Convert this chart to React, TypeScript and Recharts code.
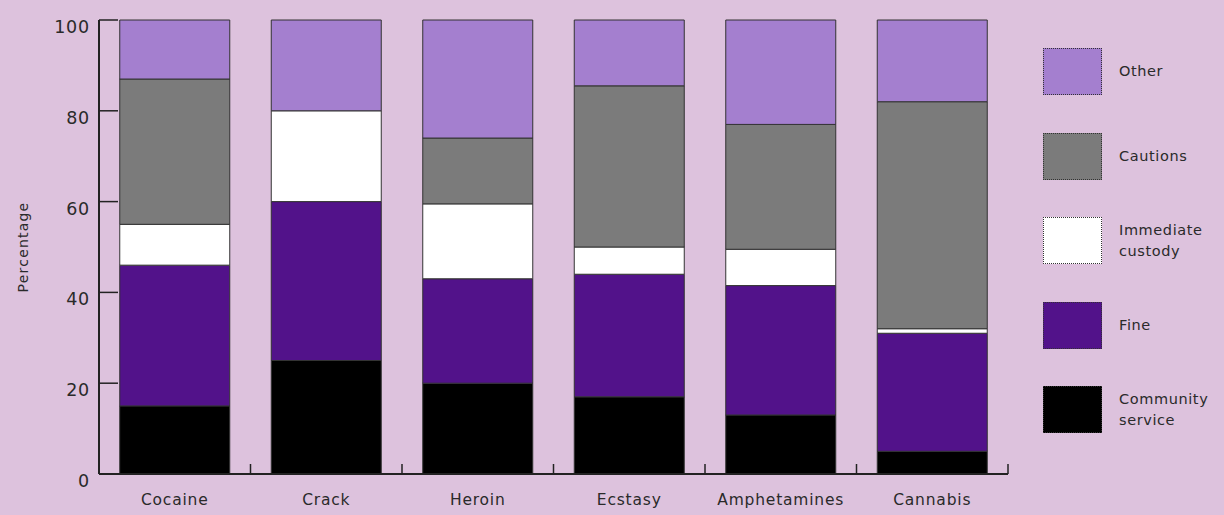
import React from 'react';
import { BarChart, Bar, XAxis, YAxis, Legend } from 'recharts';

const categories = ['Cocaine', 'Crack', 'Heroin', 'Ecstasy', 'Amphetamines', 'Cannabis'];
const communityService = [15, 25, 20, 17, 13, 5];
const fine = [31, 35, 23, 27, 28.5, 26];
const immediateCustody = [9, 20, 16.5, 6, 8, 1];
const cautions = [32, 0, 14.5, 35.5, 27.5, 50];
const other = [13, 20, 26, 14.5, 23, 18];
const yTicks = [0, 20, 40, 60, 80, 100];

const seriesKeys = ['cs', 'fine', 'ic', 'cautions', 'other'];
const seriesNames = ['Community\nservice', 'Fine', 'Immediate\ncustody', 'Cautions', 'Other'];
const seriesColors = ['#000000', '#52128a', '#ffffff', '#7b7b7b', '#a47fcf'];

const data = categories.map((name, i) => ({
  name,
  cs: communityService[i],
  fine: fine[i],
  ic: immediateCustody[i],
  cautions: cautions[i],
  other: other[i],
}));

const FONT = '"DejaVu Sans", sans-serif';
const TEXT = '#2a2a2a';
const BG = '#ddc2dd';
const Y_TICK_MARGIN = 9;
const X_TICK_MARGIN = 20;

const LegendContent = () => {
  const order = [4, 3, 2, 1, 0];
  return (
    <div style={{ width: 170, fontFamily: FONT, fontSize: 14.5, color: TEXT, letterSpacing: 0.6 }}>
      {order.map((idx, k) => (
        <div
          key={seriesKeys[idx]}
          style={{ display: 'flex', alignItems: 'center', height: 47, marginBottom: k < 4 ? 37.5 : 0 }}
        >
          <div
            style={{
              width: 57,
              height: 45,
              background: seriesColors[idx],
              border: '1px dotted #333',
              flex: 'none',
            }}
          />
          <div style={{ marginLeft: 17, whiteSpace: 'pre-line', lineHeight: '21px' }}>{seriesNames[idx]}</div>
        </div>
      ))}
    </div>
  );
};

const YLabel = (props: any) => {
  const vb = props.viewBox || {};
  const cx = (vb.x || 0) + 23;
  const cy = (vb.y || 0) + (vb.height || 0) / 2;
  return (
    <text
      x={cx}
      y={cy}
      transform={`rotate(-90 ${cx} ${cy})`}
      textAnchor="middle"
      dominantBaseline="central"
      fontFamily={FONT}
      fontSize={14}
      letterSpacing={1.2}
      fill={TEXT}
    >
      Percentage
    </text>
  );
};

const YTick = (props: any) => {
  const { x, y, payload } = props;
  const ax = x + Y_TICK_MARGIN;
  return (
    <g>
      <text
        x={x}
        y={y}
        dy={7}
        textAnchor="end"
        dominantBaseline="central"
        fontFamily={FONT}
        fontSize={17.5}
        letterSpacing={0.8}
        fill={TEXT}
      >
        {payload.value}
      </text>
      {payload.value > 0 && (
        <line x1={ax} x2={ax + 19} y1={y} y2={y} stroke="#222" strokeWidth={1.5} />
      )}
    </g>
  );
};

const XTick = (props: any) => {
  const { x, y, payload } = props;
  const ay = y - X_TICK_MARGIN;
  const bx = x + (payload.offset || 0);
  return (
    <g>
      <text
        x={x}
        y={y}
        dy="0.71em"
        textAnchor="middle"
        fontFamily={FONT}
        fontSize={15.5}
        letterSpacing={0.8}
        fill={TEXT}
      >
        {payload.value}
      </text>
      <line x1={bx} x2={bx} y1={ay} y2={ay - 10} stroke="#222" strokeWidth={1.5} />
    </g>
  );
};

export default function App() {
  return (
    <div style={{ position: 'absolute', left: 0, top: 0, width: 1224, height: 515, background: BG }}>
      <BarChart
        width={1224}
        height={515}
        data={data}
        margin={{ top: 20, right: 46, bottom: 0, left: 0 }}
        barCategoryGap="13.7%"
      >
        <XAxis
          dataKey="name"
          height={41}
          tickLine={false}
          tickSize={0}
          tickMargin={X_TICK_MARGIN}
          axisLine={{ stroke: '#222', strokeWidth: 2 }}
          tick={<XTick />}
          interval={0}
        />
        <YAxis
          domain={[0, 100]}
          ticks={yTicks}
          interval={0}
          width={99}
          tickLine={false}
          tickSize={0}
          tickMargin={Y_TICK_MARGIN}
          axisLine={{ stroke: '#222', strokeWidth: 2 }}
          tick={<YTick />}
          label={<YLabel />}
        />
        <Legend
          layout="vertical"
          align="right"
          verticalAlign="top"
          content={<LegendContent />}
          wrapperStyle={{ left: 1043, top: 48, width: 170 }}
        />
        {seriesKeys.map((k, i) => (
          <Bar
            key={k}
            dataKey={k}
            stackId="a"
            fill={seriesColors[i]}
            stroke="#333"
            strokeWidth={1}
            isAnimationActive={false}
          />
        ))}
      </BarChart>
    </div>
  );
}
